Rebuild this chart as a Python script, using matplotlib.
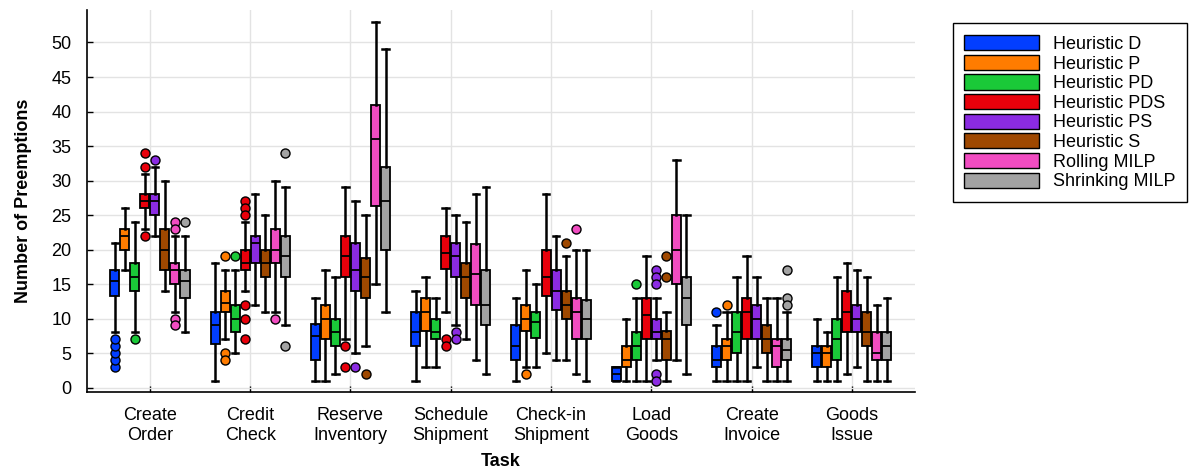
import matplotlib
matplotlib.use("Agg")
import matplotlib.pyplot as plt
from matplotlib.patches import Patch

plt.rcParams['font.family'] = ['Liberation Sans', 'DejaVu Sans']
plt.rcParams['font.size'] = 13

tasks = ['Create\nOrder', 'Credit\nCheck', 'Reserve\nInventory', 'Schedule\nShipment',
         'Check-in\nShipment', 'Load\nGoods', 'Create\nInvoice', 'Goods\nIssue']

methods = ['Heuristic D', 'Heuristic P', 'Heuristic PD', 'Heuristic PDS',
           'Heuristic PS', 'Heuristic S', 'Rolling MILP', 'Shrinking MILP']
colors = ['#023eff', '#ff7c00', '#1ac938', '#e8000b',
          '#8b2be2', '#9f4800', '#f14cc1', '#a3a3a3']

# (whisker low, q1, median, q3, whisker high) per task
heur_d = [(8, 13.25, 15.5, 17, 21), (1, 6.25, 9, 11, 18), (1, 4, 7.5, 9.25, 13), (1, 6, 8, 11, 14),
          (1, 4, 6, 9, 13), (1, 1, 2, 3, 3), (1, 3, 4, 6, 9), (1, 3, 5, 6, 10)]
heur_d_out = [[3, 4, 5, 6, 7], [], [], [], [], [], [11], []]

heur_p = [(17, 20, 22, 23, 26), (7, 11, 12.25, 14, 17), (1, 7, 10, 12, 17), (3, 8.25, 11, 13, 16),
          (3, 8.25, 10, 12, 17), (1, 3, 4, 6, 10), (1, 4, 6, 7, 11), (1, 3, 5, 6, 8)]
heur_p_out = [[], [19, 5, 4], [], [], [2], [], [12], []]

heur_pd = [(8, 14, 16, 18, 24), (5, 8, 10, 12, 17), (2, 6, 8, 10, 16), (3, 7, 8, 10, 13),
           (3, 7.25, 9.5, 11, 15), (1, 4, 6, 8, 13), (1, 5, 8, 11, 16), (1, 4, 7, 10, 16)]
heur_pd_out = [[7], [19], [], [], [], [15], [], []]

heur_pds = [(23, 26, 27, 28, 31), (14, 17, 18, 20, 24), (7, 16, 19, 22, 29), (11, 17.25, 19.5, 22, 26),
            (5, 13.25, 16, 20, 28), (1, 7, 10.5, 13, 19), (1, 7, 11, 13, 19), (2, 8, 11, 14, 18)]
heur_pds_out = [[34, 32, 22], [27, 26, 25, 12, 10, 7], [6, 3], [7, 6], [], [], [], []]

heur_ps = [(22, 25, 27, 28, 32), (12, 18, 21, 22, 28), (5, 14, 17, 21, 27), (9, 16, 19, 21, 25),
           (4, 11.25, 14, 17, 22), (4, 7, 8, 10, 13), (3, 7, 10, 12, 16), (3, 8, 10, 12, 17)]
heur_ps_out = [[33], [], [3], [8, 7], [], [17, 16, 15, 2, 1], [], []]

heur_s = [(14, 17, 20, 23, 30), (11, 16, 18, 20, 25), (6, 13, 16, 18.75, 25), (7, 13, 16, 18, 24),
          (4, 10, 12, 14, 19), (1, 4, 7, 8.25, 11), (1, 5, 7, 9, 13), (1, 6, 8, 11, 16)]
heur_s_out = [[], [], [2], [], [21], [19, 16], [], []]

rolling = [(11, 15, 17, 18, 22), (11, 18, 20, 23, 30), (15, 26.25, 36, 41, 53), (4, 12, 16.5, 20.75, 28),
           (2, 7, 11, 13, 20), (4, 15, 20, 25, 33), (1, 3, 6, 7, 13), (1, 4, 5, 8, 12)]
rolling_out = [[24, 23, 10, 9], [10], [], [], [23], [], [], []]

shrinking = [(8, 13, 15.5, 17, 22), (9, 16, 19, 22, 29), (11, 20, 27, 32, 49), (2, 9, 12, 17, 29),
             (1, 7, 10, 12.75, 20), (2, 9, 13, 16, 25), (1, 4, 5.5, 7, 11), (1, 4, 6, 8, 13)]
shrinking_out = [[24], [34, 6], [], [], [], [], [17, 13, 12], []]

series = [(heur_d, heur_d_out), (heur_p, heur_p_out), (heur_pd, heur_pd_out),
          (heur_pds, heur_pds_out), (heur_ps, heur_ps_out), (heur_s, heur_s_out),
          (rolling, rolling_out), (shrinking, shrinking_out)]

fig = plt.figure(figsize=(11.96, 4.70), dpi=100)
ax = fig.add_axes([0.0725, 0.1666, 0.6926, 0.812])

step = 0.1
for j, ((summ, outs), col) in enumerate(zip(series, colors)):
    stats = []
    for (lo, q1, med, q3, hi), fl in zip(summ, outs):
        stats.append(dict(whislo=lo, q1=q1, med=med, q3=q3, whishi=hi, fliers=fl))
    pos = [i + (j - 3.5) * step for i in range(len(tasks))]
    ax.bxp(stats, positions=pos, widths=0.09, capwidths=0.065, patch_artist=True,
           manage_ticks=False,
           boxprops=dict(facecolor=col, edgecolor='black', linewidth=1.3),
           whiskerprops=dict(color='black', linewidth=1.8),
           capprops=dict(color='black', linewidth=1.8),
           medianprops=dict(color='black', linewidth=1.3),
           flierprops=dict(marker='o', markerfacecolor=col, markeredgecolor='black',
                           markersize=6.5, markeredgewidth=1.0),
           zorder=3)

ax.set_xlim(-0.63, 7.63)
ax.set_ylim(-0.6, 54.7)
ax.set_xticks(range(len(tasks)))
ax.set_xticklabels(tasks)
ax.set_yticks(range(0, 51, 5))
ax.tick_params(axis='both', direction='in', labelsize=13, length=4, width=1)
ax.tick_params(axis='y', pad=11)
ax.tick_params(axis='x', pad=11)
ax.grid(True, color='#e3e3e3', linewidth=1, zorder=0)
ax.set_axisbelow(True)
for s in ['top', 'right']:
    ax.spines[s].set_visible(False)
for s in ['left', 'bottom']:
    ax.spines[s].set_linewidth(1.2)

ax.set_xlabel('Task', fontsize=13, fontweight='bold', labelpad=7)
ax.set_ylabel('Number of Preemptions', fontsize=13, fontweight='bold', labelpad=14)

handles = [Patch(facecolor=c, edgecolor='black', linewidth=1) for c in colors]
fig.legend(handles, methods, loc='upper left', bbox_to_anchor=(0.7966, 0.9504),
           bbox_transform=fig.transFigure, fontsize=13, frameon=True, fancybox=False,
           edgecolor='black', framealpha=1, handlelength=4.15, handleheight=0.92,
           labelspacing=0.1, handletextpad=0.75, borderpad=0.65, borderaxespad=0)

fig.savefig('out.png', dpi=100)
